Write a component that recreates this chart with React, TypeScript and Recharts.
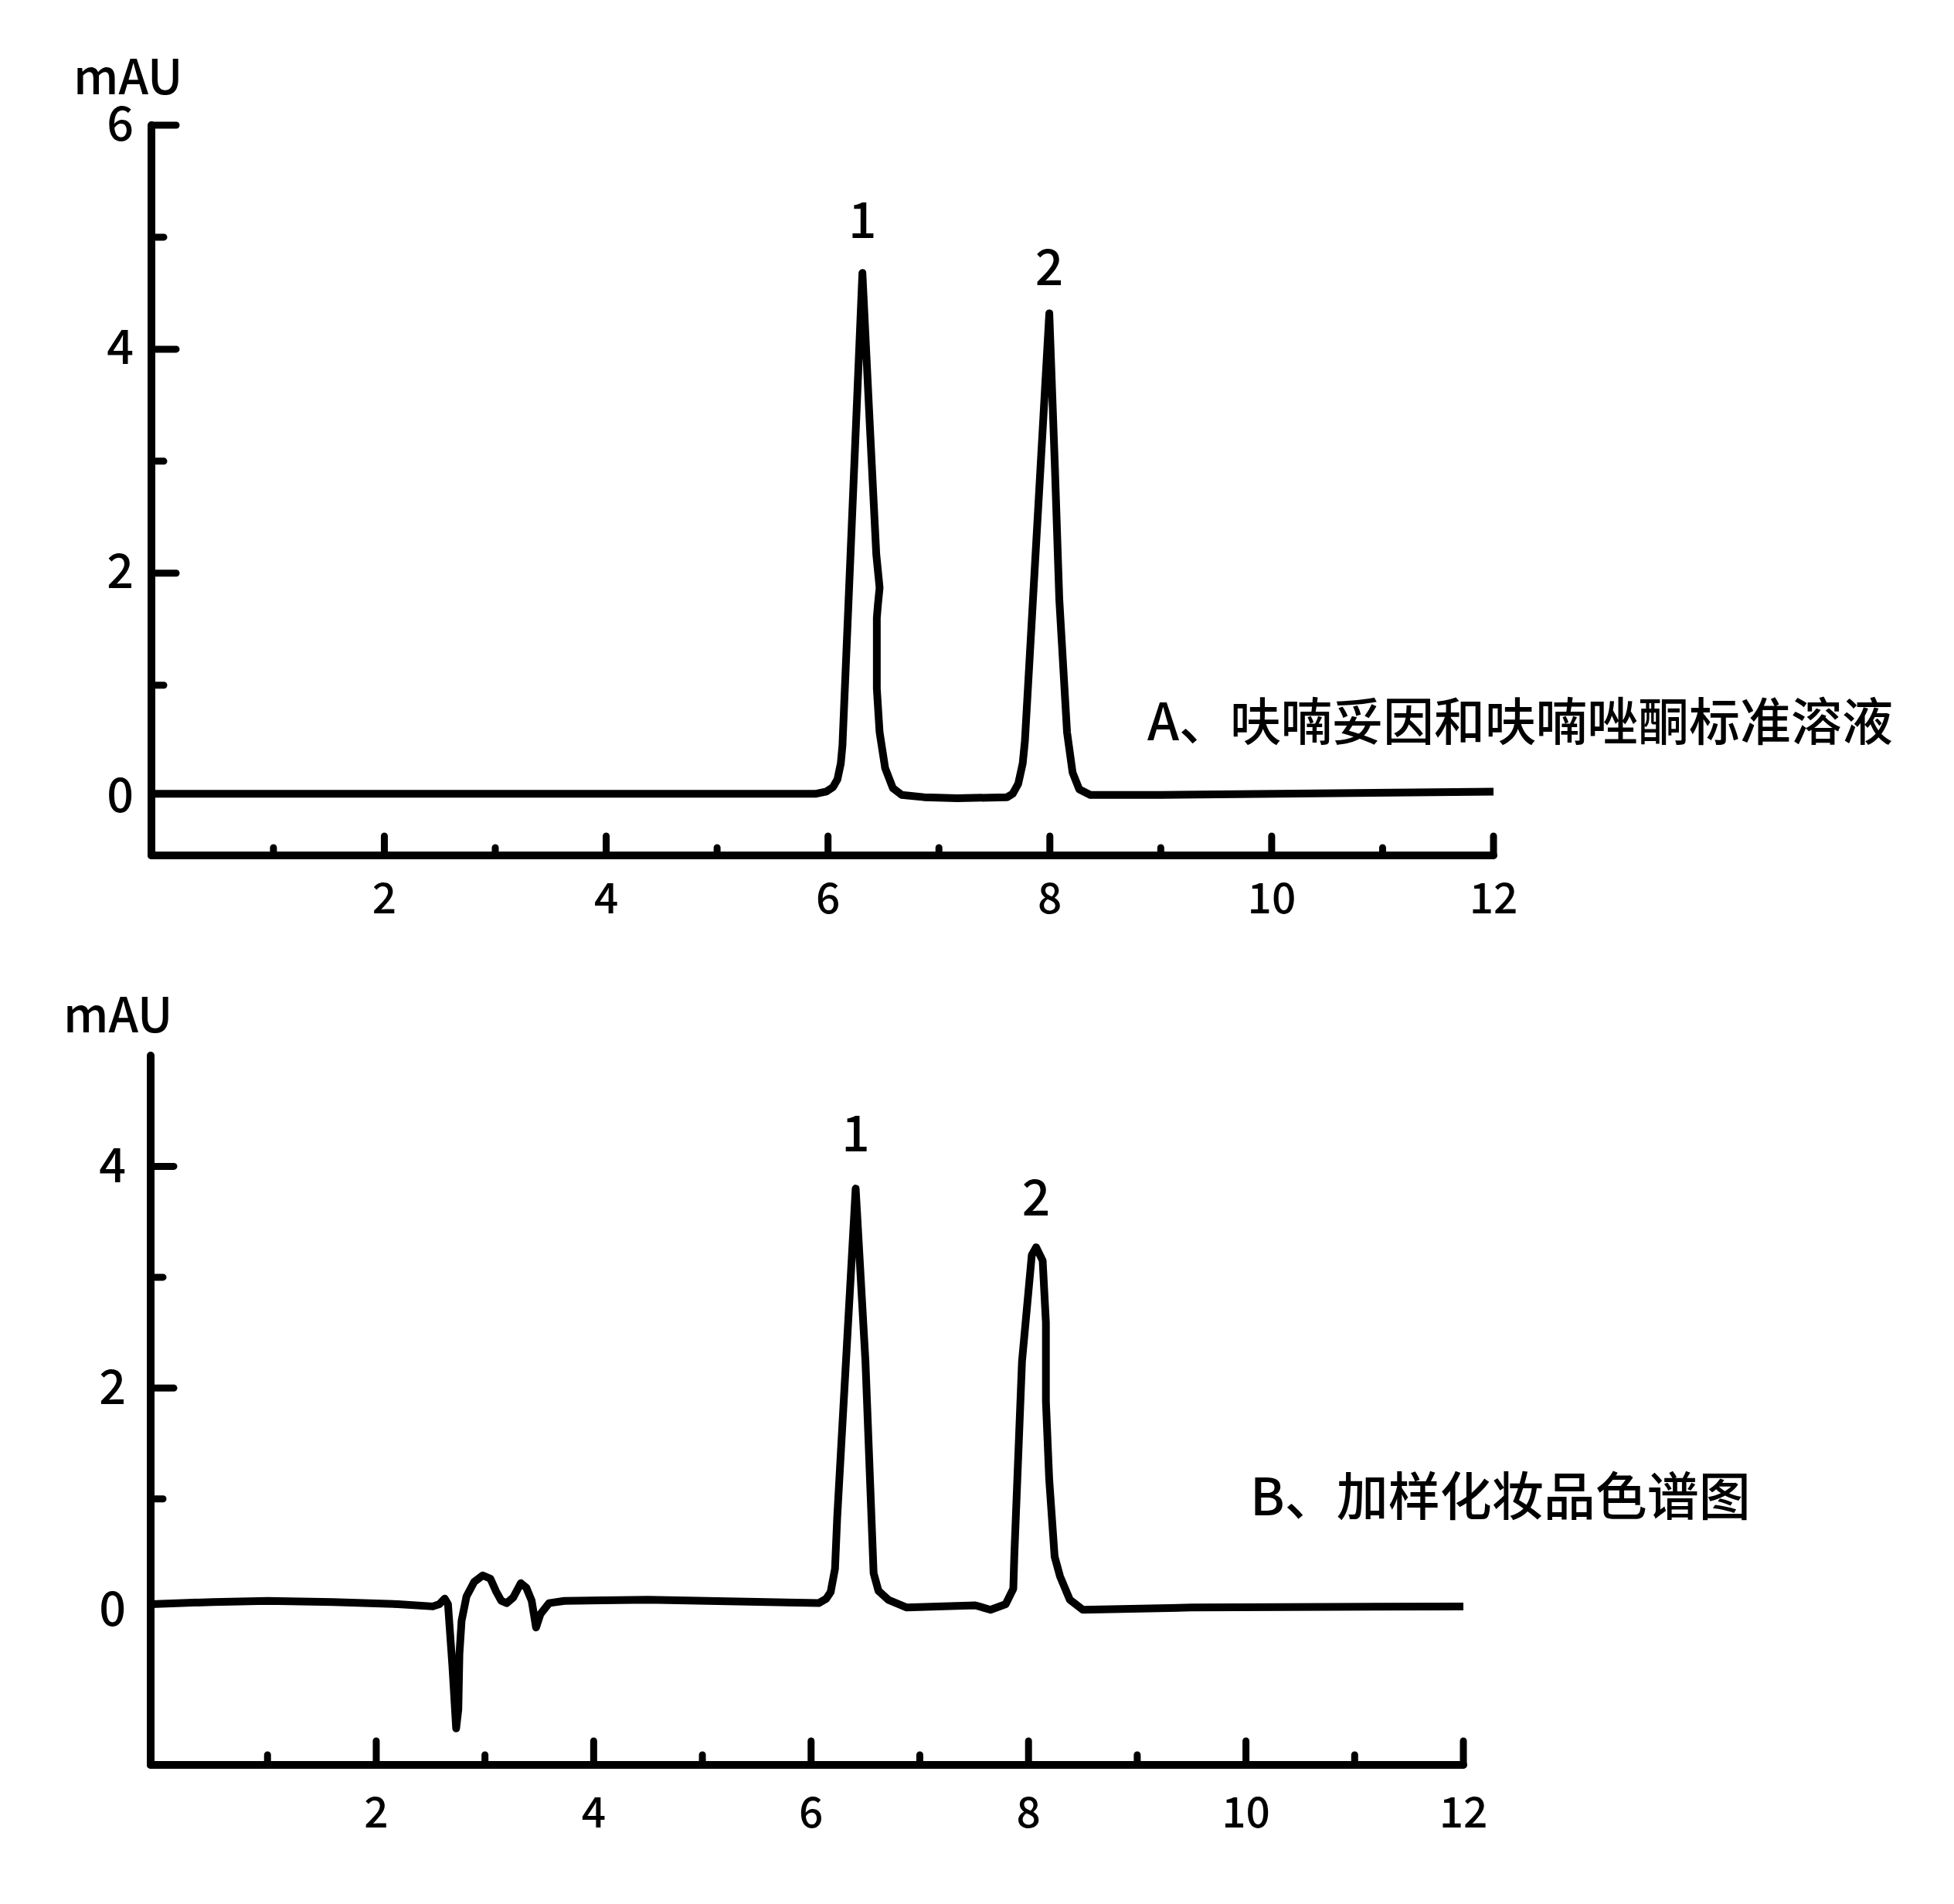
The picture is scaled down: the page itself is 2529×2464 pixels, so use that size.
import React from "react";
import { LineChart, Line, XAxis, YAxis, ReferenceDot } from "recharts";

const FONT = '"Noto Sans CJK SC", "Noto Sans", sans-serif';

// A: standard solution trace (time in min, signal in mAU)
const stdTime = [
  -0.1, 3.0, 5.885, 5.985, 6.045, 6.085, 6.115, 6.13, 6.31, 6.375, 6.435, 6.465,
  6.45, 6.44, 6.44, 6.465, 6.515, 6.585, 6.665, 6.865, 7.165, 7.615, 7.665, 7.715,
  7.755, 7.775, 7.995, 8.045, 8.085, 8.155, 8.205, 8.265, 8.365, 9.0, 12.0,
];
const stdSignal = [
  0.03, 0.03, 0.03, 0.05, 0.09, 0.16, 0.3, 0.46, 4.68, 3.36, 2.17, 1.87,
  1.72, 1.6, 0.97, 0.58, 0.26, 0.08, 0.02, 0.0, -0.01, 0.0, 0.03, 0.12,
  0.3, 0.5, 4.32, 2.96, 1.77, 0.58, 0.22, 0.07, 0.02, 0.02, 0.05,
];

// B: spiked cosmetic sample trace
const sampleTime = [
  -0.07, 0.5, 1.0, 1.6, 2.2, 2.52, 2.58, 2.63, 2.66, 2.7, 2.735, 2.755, 2.765,
  2.785, 2.83, 2.9, 2.98, 3.05, 3.1, 3.15, 3.2, 3.26, 3.33, 3.38, 3.43, 3.47,
  3.51, 3.59, 3.73, 4.5, 6.07, 6.14, 6.18, 6.22, 6.24, 6.41, 6.5, 6.575, 6.62,
  6.71, 6.88, 7.51, 7.65, 7.79, 7.86, 7.87, 7.94, 8.03, 8.07, 8.13, 8.16, 8.16,
  8.19, 8.24, 8.29, 8.38, 8.5, 9.5, 12.0,
];
const sampleSignal = [
  0.05, 0.07, 0.08, 0.07, 0.05, 0.03, 0.05, 0.1, 0.05, -0.5, -1.07, -0.9, -0.4,
  -0.1, 0.12, 0.25, 0.31, 0.28, 0.17, 0.08, 0.06, 0.11, 0.24, 0.2, 0.08, -0.16,
  -0.04, 0.06, 0.08, 0.09, 0.06, 0.1, 0.16, 0.37, 0.83, 3.8, 2.24, 0.33, 0.17,
  0.09, 0.02, 0.04, 0.0, 0.05, 0.19, 0.51, 2.24, 3.2, 3.27, 3.15, 2.59, 1.88,
  1.18, 0.48, 0.3, 0.09, 0.0, 0.02, 0.03,
];

const xTicks = [1, 2, 3, 4, 5, 6, 7, 8, 9, 10, 11, 12];
const stdYTicks = [0, 1, 2, 3, 4, 5, 6];
const sampleYTicks = [0, 1, 2, 3, 4];

const stdPeakTime = [6.31, 7.995];
const stdPeakSignal = [4.68, 4.32];
const samplePeakTime = [6.41, 8.07];
const samplePeakSignal = [3.8, 3.27];
const peakNames = ["1", "2"];

const stdData = stdTime.map((t, i) => ({ time: t, signal: stdSignal[i] }));
const sampleData = sampleTime.map((t, i) => ({ time: t, signal: sampleSignal[i] }));

function makeXTick(major: number, minor: number, labelDy: number) {
  return (props: any) => {
    const { x, y, payload } = props;
    const v = payload.value;
    const isMajor = v % 2 === 0;
    return (
      <g>
        <line x1={x} x2={x} y1={y} y2={y - (isMajor ? major : minor)} stroke="#000" strokeWidth={9} strokeLinecap="round" />
        {isMajor && (
          <text x={x} y={y + labelDy} textAnchor="middle" dominantBaseline="central" fontSize={55} fontWeight={500} fontFamily={FONT} fill="#000">
            {v}
          </text>
        )}
      </g>
    );
  };
}

function makeYTick(major: number, minor: number, gap: number, dy: number) {
  return (props: any) => {
    const { x, y, payload } = props;
    const v = payload.value;
    const isMajor = v % 2 === 0;
    return (
      <g>
        {v !== 0 && (
          <line x1={x} x2={x + (isMajor ? major : minor)} y1={y} y2={y} stroke="#000" strokeWidth={9} strokeLinecap="round" />
        )}
        {isMajor && (
          <text x={x - gap} y={y + dy} textAnchor="end" dominantBaseline="central" fontSize={61} fontWeight={500} fontFamily={FONT} fill="#000">
            {v}
          </text>
        )}
      </g>
    );
  };
}

const axisStyle = { stroke: "#000", strokeWidth: 10, strokeLinecap: "round" as const };

export default function App() {
  return (
    <div style={{ position: "absolute", left: 0, top: 0, width: 2529, height: 2464, background: "#fff" }}>
      <div style={{ position: "absolute", left: 0, top: 0 }}>
        <LineChart width={2529} height={1250} data={stdData} margin={{ top: 162, right: 596, bottom: 63, left: 96 }}>
          <XAxis
            dataKey="time"
            type="number"
            domain={[-0.1, 12]}
            ticks={xTicks}
            interval={0}
            allowDataOverflow
            height={80}
            tickSize={0}
            tickMargin={0}
            tickLine={false}
            axisLine={axisStyle}
            tick={makeXTick(25, 10, 51)}
          />
          <YAxis
            type="number"
            domain={[-0.52, 6]}
            ticks={stdYTicks}
            interval={0}
            allowDataOverflow
            width={100}
            tickSize={0}
            tickMargin={0}
            tickLine={false}
            axisLine={axisStyle}
            tick={makeYTick(32, 16, 23, -7)}
          />
          <Line
            dataKey="signal"
            type="linear"
            stroke="#000"
            strokeWidth={10}
            strokeLinejoin="round"
            strokeLinecap="round"
            dot={false}
            isAnimationActive={false}
          />
          {stdPeakTime.map((t, i) => (
            <ReferenceDot
              key={i}
              x={t}
              y={stdPeakSignal[i]}
              r={1}
              fill="none"
              stroke="none"
              label={{ value: peakNames[i], position: "top", offset: i === 0 ? 44 : 35, fontSize: 64, fontWeight: 500, fill: "#000", fontFamily: FONT }}
            />
          ))}
        </LineChart>
      </div>
      <div style={{ position: "absolute", left: 0, top: 1200 }}>
        <LineChart width={2529} height={1264} data={sampleData} margin={{ top: 166, right: 635, bottom: 100, left: 95 }}>
          <XAxis
            dataKey="time"
            type="number"
            domain={[-0.075, 12]}
            ticks={xTicks}
            interval={0}
            allowDataOverflow
            height={80}
            tickSize={0}
            tickMargin={0}
            tickLine={false}
            axisLine={axisStyle}
            tick={makeXTick(31, 13, 57)}
          />
          <YAxis
            type="number"
            domain={[-1.4, 5]}
            ticks={sampleYTicks}
            interval={0}
            allowDataOverflow
            width={100}
            tickSize={0}
            tickMargin={0}
            tickLine={false}
            axisLine={axisStyle}
            tick={makeYTick(30, 16, 32, -6)}
          />
          <Line
            dataKey="signal"
            type="linear"
            stroke="#000"
            strokeWidth={10}
            strokeLinejoin="round"
            strokeLinecap="round"
            dot={false}
            isAnimationActive={false}
          />
          {samplePeakTime.map((t, i) => (
            <ReferenceDot
              key={i}
              x={t}
              y={samplePeakSignal[i]}
              r={1}
              fill="none"
              stroke="none"
              label={{ value: peakNames[i], position: "top", offset: i === 0 ? 47 : 40, fontSize: 64, fontWeight: 500, fill: "#000", fontFamily: FONT }}
            />
          ))}
        </LineChart>
      </div>
      <svg width={2529} height={2464} style={{ position: "absolute", left: 0, top: 0, pointerEvents: "none" }}>
        <text x={95} y={122} fontSize={62} fontWeight={500} fontFamily={FONT} fill="#000">mAU</text>
        <text x={82} y={1336} fontSize={62} fontWeight={500} fontFamily={FONT} fill="#000">mAU</text>
        <text x={1485} y={929} fontSize={66} fontWeight={500} fontFamily={FONT} fill="#000" dominantBaseline="central">
          A、呋喃妥因和呋喃唑酮标准溶液
        </text>
        <text x={1618} y={1931} fontSize={67} fontWeight={500} fontFamily={FONT} fill="#000" dominantBaseline="central">
          B、加样化妆品色谱图
        </text>
      </svg>
    </div>
  );
}
